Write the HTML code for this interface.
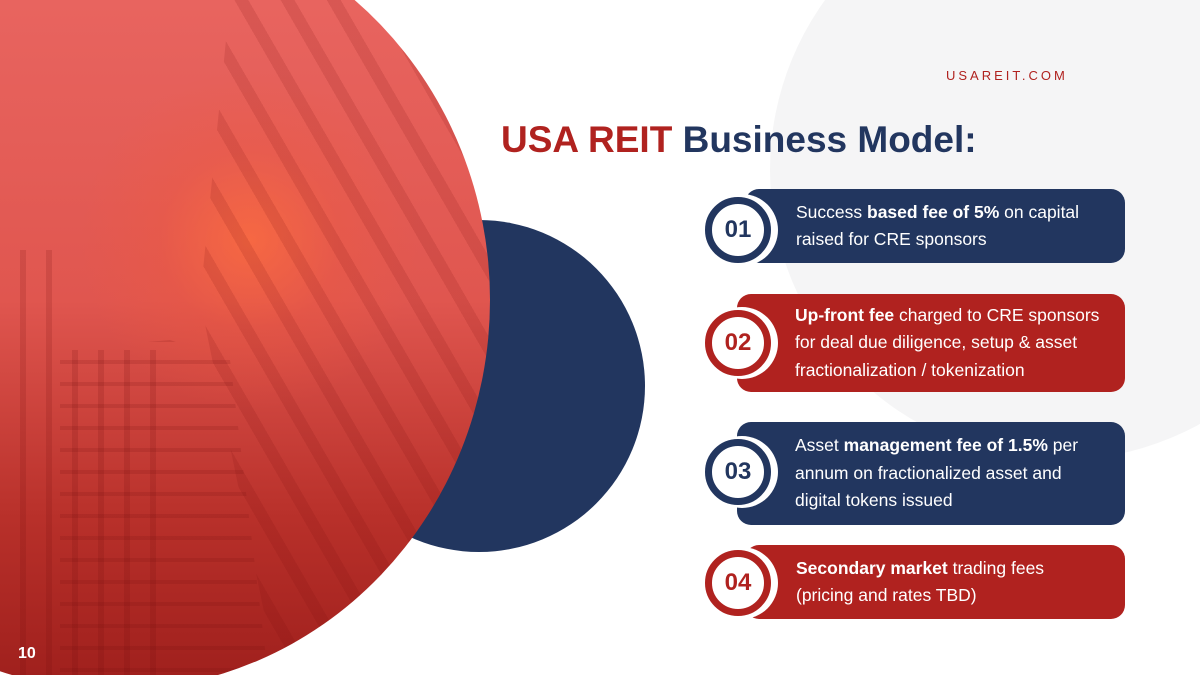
<!DOCTYPE html>
<html><head><meta charset="utf-8"><style>
html,body{margin:0;padding:0;overflow:hidden}
body{width:1200px;height:675px;position:relative;overflow:hidden;background:#fff;font-family:"Liberation Sans",sans-serif}
.abs{position:absolute}
.card{position:absolute;border-radius:14px;color:#fff;font-size:17.5px;line-height:27.5px;box-sizing:border-box;display:flex;align-items:center}
.n{background:#22365f}.r{background:#b0221f}
.num{position:absolute;width:66px;height:66px;border-radius:50%;box-sizing:border-box;background:#fff;font-weight:bold;font-size:24px;display:flex;align-items:center;justify-content:center;box-shadow:4px 0 0 3px #fff}
.num.n{border:7px solid #22365f;color:#22365f}
.num.r{border:7px solid #b0221f;color:#b0221f}
.ov{position:absolute;left:260px;top:90px;width:490px;height:690px}
</style></head><body>
<div class="abs" style="left:770px;top:-120px;width:580px;height:580px;border-radius:50%;background:#f5f5f6"></div>
<div class="abs" style="left:313px;top:220px;width:332px;height:332px;border-radius:50%;background:#22365f"></div>
<div class="abs" style="left:-260px;top:-90px;width:750px;height:780px;border-radius:50%;overflow:hidden;background:linear-gradient(180deg,#e8645f 0%,#e8645f 12%,#e0564f 50%,#b8302a 78%,#9e1f1c 100%)">
 <div class="ov" style="background:radial-gradient(circle at 250px 240px,rgba(255,110,60,.7) 0,rgba(240,90,60,.3) 90px,rgba(0,0,0,0) 170px)"></div>
 <div class="ov" style="background:repeating-linear-gradient(60deg,rgba(120,10,10,0) 0 28px,rgba(120,10,10,.14) 28px 40px);clip-path:polygon(230px 0,490px 0,490px 690px,280px 690px,200px 300px)"></div>
 <div class="ov" style="background:repeating-linear-gradient(90deg,rgba(110,10,10,.0) 0 20px,rgba(110,10,10,.16) 20px 26px);clip-path:polygon(0 250px,60px 250px,60px 350px,170px 350px,170px 690px,0 690px)"></div>
 <div class="ov" style="background:repeating-linear-gradient(0deg,rgba(110,10,10,.0) 0 18px,rgba(110,10,10,.15) 18px 22px);clip-path:polygon(60px 350px,170px 340px,230px 360px,270px 690px,60px 690px)"></div>
</div>
<div class="abs" style="left:18px;top:645px;color:#fff;font-weight:bold;font-size:16px;line-height:18px">10</div>
<div class="abs" style="left:946px;top:68px;color:#b0221f;font-size:13px;letter-spacing:3px;line-height:16px">USAREIT.COM</div>
<div class="abs" style="left:501px;top:118px;font-size:37px;line-height:44px;font-weight:bold;color:#22365f;white-space:nowrap"><span style="color:#b0221f">USA REIT</span> Business Model:</div>

<div class="card n" style="left:745px;top:189px;width:380px;height:74px;padding-left:51px"><div>Success <b>based fee of 5%</b> on capital<br>raised for CRE sponsors</div></div>
<div class="card r" style="left:737px;top:294px;width:388px;height:98px;padding-left:58px"><div><b>Up-front fee</b> charged to CRE sponsors<br>for deal due diligence, setup &amp; asset<br>fractionalization / tokenization</div></div>
<div class="card n" style="left:737px;top:422px;width:388px;height:103px;padding-left:58px"><div>Asset <b>management fee of 1.5%</b> per<br>annum on fractionalized asset and<br>digital tokens issued</div></div>
<div class="card r" style="left:745px;top:545px;width:380px;height:74px;padding-left:51px"><div><b>Secondary market</b> trading fees<br>(pricing and rates TBD)</div></div>

<div class="num n" style="left:705px;top:197px">01</div>
<div class="num r" style="left:705px;top:310px">02</div>
<div class="num n" style="left:705px;top:439px">03</div>
<div class="num r" style="left:705px;top:550px">04</div>
</body></html>
